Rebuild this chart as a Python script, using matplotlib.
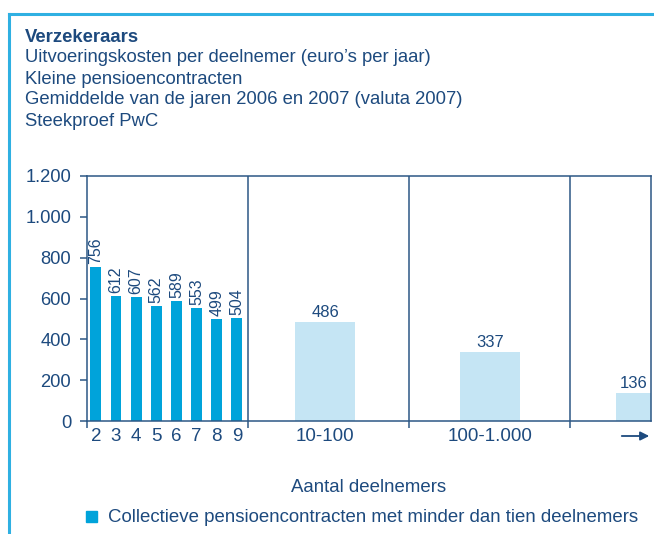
import matplotlib
matplotlib.use("Agg")
import matplotlib.pyplot as plt
from matplotlib.ticker import FuncFormatter
from matplotlib.patches import Rectangle
from matplotlib.lines import Line2D

plt.rcParams['font.family'] = ['Liberation Sans', 'DejaVu Sans']

# ---- data ----
small_labels = ['2', '3', '4', '5', '6', '7', '8', '9']
small_values = [756, 612, 607, 562, 589, 553, 499, 504]
group_labels = ['10-100', '100-1.000', '']
group_values = [486, 337, 136]
title_lines = ['Verzekeraars',
               'Uitvoeringskosten per deelnemer (euro\u2019s per jaar)',
               'Kleine pensioencontracten',
               'Gemiddelde van de jaren 2006 en 2007 (valuta 2007)',
               'Steekproef PwC']
xlabel = 'Aantal deelnemers'
legend_label = 'Collectieve pensioencontracten met minder dan tien deelnemers'

TXT = '#1d4a7e'
AX = '#2c5785'
BAR = '#00a3da'
LBAR = '#c5e5f4'
BORDER = '#2fb0e2'

W, H = 654, 534
fig = plt.figure(figsize=(W / 100, H / 100), dpi=100)

def fx(px): return px / W
def fy(py): return 1 - py / H

# border
fig.add_artist(Line2D([fx(9), fx(9)], [fy(14), 0], color=BORDER, lw=2.2, transform=fig.transFigure))
fig.add_artist(Line2D([fx(9), 1], [fy(14), fy(14)], color=BORDER, lw=2.2, transform=fig.transFigure))

# title
ys = [38, 58, 79, 100, 121]
for i, (t, y) in enumerate(zip(title_lines, ys)):
    fig.text(fx(25), fy(y), t, fontsize=13.3, color=TXT, va='center', ha='left',
             fontweight='bold' if i == 0 else 'normal')

ax = fig.add_axes([fx(87), fy(421), fx(651) - fx(87), fy(176) - fy(421)])
ax.set_xlim(0, 3.5)
ax.set_ylim(0, 1200)

# small bars
sx = [0.055 + i * 0.125 for i in range(len(small_values))]
ax.bar(sx, small_values, width=0.068, color=BAR, clip_on=True)
for x, v in zip(sx, small_values):
    ax.text(x, v + 14, str(v), rotation=90, ha='center', va='bottom', fontsize=11.5, color=TXT)

# group bars
gx = [1.478, 2.503, 3.472]
ax.bar(gx, group_values, width=0.373, color=LBAR, clip_on=True)
for x, v in zip(gx, group_values):
    lx = x if x + 0.19 <= 3.5 else (x - 0.186 + 3.5) / 2
    ax.text(lx, v + 10, str(v), ha='center', va='bottom', fontsize=12, color=TXT)

# section dividers
for d in [1, 2, 3]:
    ax.axvline(d, color=AX, lw=1.1)

for s in ax.spines.values():
    s.set_color(AX)
    s.set_linewidth(1.1)

ax.set_yticks(range(0, 1201, 200))
ax.yaxis.set_major_formatter(FuncFormatter(lambda v, p: f'{int(v):,}'.replace(',', '.')))
ax.set_xticks([0, 1, 2, 3])
ax.set_xticklabels([])
ax.tick_params(axis='both', colors=AX, labelcolor=TXT, labelsize=13.2, length=5, width=1.1, direction='out')
ax.tick_params(axis='y', pad=6.5)

# x category labels
for x, l in zip(sx, small_labels):
    ax.text(x, -35, l, ha='center', va='top', fontsize=13.5, color=TXT, clip_on=False)
for x, l in zip(gx[:2], group_labels[:2]):
    ax.text(x, -35, l, ha='center', va='top', fontsize=13.5, color=TXT, clip_on=False)
ax.annotate('', xy=(fx(652), fy(436)), xytext=(fx(619), fy(436)), xycoords='figure fraction',
            textcoords='figure fraction',
            arrowprops=dict(arrowstyle='-|>', color=TXT, lw=1.3, mutation_scale=13))

fig.text(fx(369), fy(487), xlabel, ha='center', va='center', fontsize=13.4, color=TXT)

# legend
fig.add_artist(Rectangle((fx(86), fy(522)), fx(11), fy(511) - fy(522), color=BAR, transform=fig.transFigure))
fig.text(fx(108), fy(517), legend_label, ha='left', va='center', fontsize=13.4, color=TXT)

fig.savefig('out.png', dpi=100)
